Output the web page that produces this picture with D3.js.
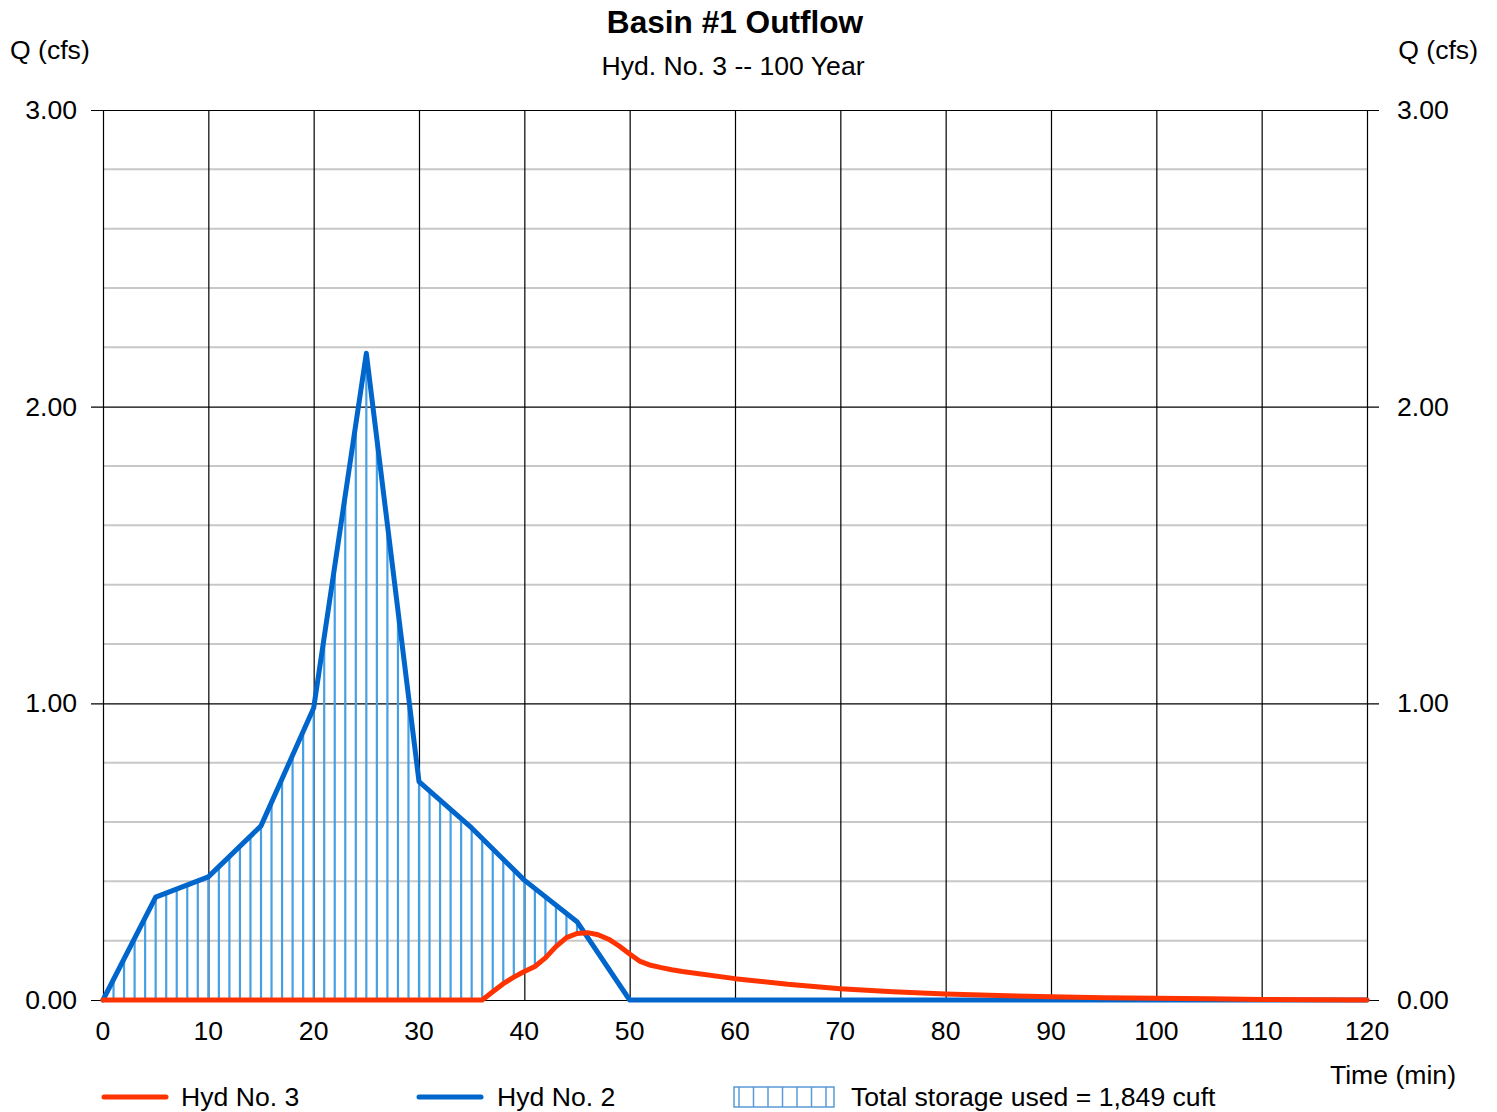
<!DOCTYPE html>
<html>
<head>
<meta charset="utf-8">
<script src="https://cdn.jsdelivr.net/npm/d3@7"></script>
<style>
  html, body { margin: 0; padding: 0; background: #fff; }
  svg { display: block; }
  text { font-family: "Liberation Sans", Arial, sans-serif; fill: #000; }
</style>
</head>
<body>
<svg id="chart" width="1497" height="1112"></svg>
<script>
// ---- data ----
const title = "Basin #1 Outflow";
const subtitle = "Hyd. No. 3 -- 100 Year";
const yAxisLabel = "Q (cfs)";
const xAxisLabel = "Time (min)";

const xTicks = [0, 10, 20, 30, 40, 50, 60, 70, 80, 90, 100, 110, 120];
const yMajorTicks = [0, 1, 2, 3];
const yMinorTicks = [0.2, 0.4, 0.6, 0.8, 1.2, 1.4, 1.6, 1.8, 2.2, 2.4, 2.6, 2.8];

// Hyd No. 2 (inflow)
const hyd2Time = [0, 5, 10, 15, 20, 25, 30, 35, 40, 45, 50, 120];
const hyd2Q    = [0, 0.347, 0.415, 0.587, 0.984, 2.18, 0.736, 0.58, 0.404, 0.264, 0, 0];

// Hyd No. 3 (outflow)
const hyd3Time = [0, 36, 37, 38, 39, 40, 41, 42, 43, 44, 45, 46, 47, 48, 49, 50, 51, 52, 53, 54, 55,
                  60, 65, 70, 75, 80, 85, 90, 95, 100, 105, 110, 115, 120];
const hyd3Q    = [0, 0, 0.028, 0.055, 0.077, 0.096, 0.113, 0.142, 0.180, 0.210, 0.224, 0.227, 0.220,
                  0.205, 0.182, 0.155, 0.130, 0.117, 0.109, 0.102, 0.096,
                  0.072, 0.053, 0.038, 0.028, 0.020, 0.015, 0.011, 0.008, 0.006, 0.004, 0.002, 0.001, 0.000];

const legendLabels = ["Hyd No. 3", "Hyd No. 2", "Total storage used = 1,849 cuft"];

// ---- drawing ----
const svg = d3.select("#chart");
const L = 103, R = 1367, T = 110, B = 1000;
const x = d3.scaleLinear().domain([0, 120]).range([L, R]);
const y = d3.scaleLinear().domain([0, 3]).range([B, T]);

const RED = "#ff3300", BLUE = "#0066cc", HATCH = "#46a0e4";
const FS = 26.6;

// minor grid
svg.append("g").selectAll("line").data(yMinorTicks).join("line")
  .attr("x1", L).attr("x2", R)
  .attr("y1", d => y(d)).attr("y2", d => y(d))
  .attr("stroke", "#c8c8c8").attr("stroke-width", 2);

// vertical grid
svg.append("g").selectAll("line").data(xTicks).join("line")
  .attr("x1", d => x(d) + 0.5).attr("x2", d => x(d) + 0.5)
  .attr("y1", T).attr("y2", B)
  .attr("stroke", "#000").attr("stroke-width", 1.2);

// major horizontal grid + ticks both sides
svg.append("g").selectAll("line").data(yMajorTicks).join("line")
  .attr("x1", L - 12).attr("x2", R + 12)
  .attr("y1", d => y(d) + 0.5).attr("y2", d => y(d) + 0.5)
  .attr("stroke", "#000").attr("stroke-width", 1.2);

// axis labels (left & right)
const fmt = d3.format(".2f");
svg.append("g").selectAll("text").data(yMajorTicks).join("text")
  .attr("x", 77).attr("y", d => y(d) + 9)
  .attr("text-anchor", "end").attr("font-size", FS)
  .text(d => fmt(d));
svg.append("g").selectAll("text").data(yMajorTicks).join("text")
  .attr("x", 1397).attr("y", d => y(d) + 9)
  .attr("text-anchor", "start").attr("font-size", FS)
  .text(d => fmt(d));
svg.append("g").selectAll("text").data(xTicks).join("text")
  .attr("x", d => x(d)).attr("y", 1040)
  .attr("text-anchor", "middle").attr("font-size", FS)
  .text(d => d);

// hatch (storage) between outflow and inflow, one line per minute
const interp = (ts, vs, t) => {
  for (let i = 0; i < ts.length - 1; i++) {
    if (t >= ts[i] && t <= ts[i + 1]) {
      const f = (t - ts[i]) / (ts[i + 1] - ts[i]);
      return vs[i] + f * (vs[i + 1] - vs[i]);
    }
  }
  return 0;
};
const hatchData = d3.range(1, 50).map(t => ({
  t, top: interp(hyd2Time, hyd2Q, t), bot: interp(hyd3Time, hyd3Q, t)
})).filter(d => d.top > d.bot);
svg.append("g").selectAll("line").data(hatchData).join("line")
  .attr("x1", d => x(d.t)).attr("x2", d => x(d.t))
  .attr("y1", d => y(d.bot)).attr("y2", d => y(d.top))
  .attr("stroke", HATCH).attr("stroke-width", 2.2);

// lines
const line = d3.line().x(d => x(d[0])).y(d => y(d[1]));
svg.append("path")
  .attr("d", line(hyd2Time.map((t, i) => [t, hyd2Q[i]])))
  .attr("fill", "none").attr("stroke", BLUE).attr("stroke-width", 5)
  .attr("stroke-linejoin", "round").attr("stroke-linecap", "round");
svg.append("path")
  .attr("d", line(hyd3Time.map((t, i) => [t, hyd3Q[i]])))
  .attr("fill", "none").attr("stroke", RED).attr("stroke-width", 5)
  .attr("stroke-linejoin", "round").attr("stroke-linecap", "round");

// titles
svg.append("text").attr("x", 735).attr("y", 33).attr("text-anchor", "middle")
  .attr("font-size", 31.6).attr("font-weight", "bold").text(title);
svg.append("text").attr("x", 733).attr("y", 75).attr("text-anchor", "middle")
  .attr("font-size", FS).text(subtitle);
svg.append("text").attr("x", 10).attr("y", 59).attr("font-size", FS).text(yAxisLabel);
svg.append("text").attr("x", 1478).attr("y", 59).attr("text-anchor", "end").attr("font-size", FS).text(yAxisLabel);
svg.append("text").attr("x", 1456).attr("y", 1084).attr("text-anchor", "end").attr("font-size", FS).text(xAxisLabel);

// legend
const lg = svg.append("g");
lg.append("line").attr("x1", 104).attr("x2", 166).attr("y1", 1097).attr("y2", 1097)
  .attr("stroke", RED).attr("stroke-width", 5).attr("stroke-linecap", "round");
lg.append("text").attr("x", 181).attr("y", 1106).attr("font-size", FS).text(legendLabels[0]);
lg.append("line").attr("x1", 419).attr("x2", 481).attr("y1", 1097).attr("y2", 1097)
  .attr("stroke", BLUE).attr("stroke-width", 5).attr("stroke-linecap", "round");
lg.append("text").attr("x", 497).attr("y", 1106).attr("font-size", FS).text(legendLabels[1]);
lg.append("rect").attr("x", 734).attr("y", 1087).attr("width", 100).attr("height", 20)
  .attr("fill", "none").attr("stroke", "#5a9ad6").attr("stroke-width", 1.5);
lg.append("g").selectAll("line").data(d3.range(7)).join("line")
  .attr("x1", i => 739 + i * 14.5).attr("x2", i => 739 + i * 14.5)
  .attr("y1", 1087).attr("y2", 1107)
  .attr("stroke", "#5a9ad6").attr("stroke-width", 1.5);
lg.append("text").attr("x", 851).attr("y", 1106).attr("font-size", FS).text(legendLabels[2]);
</script>
</body>
</html>
